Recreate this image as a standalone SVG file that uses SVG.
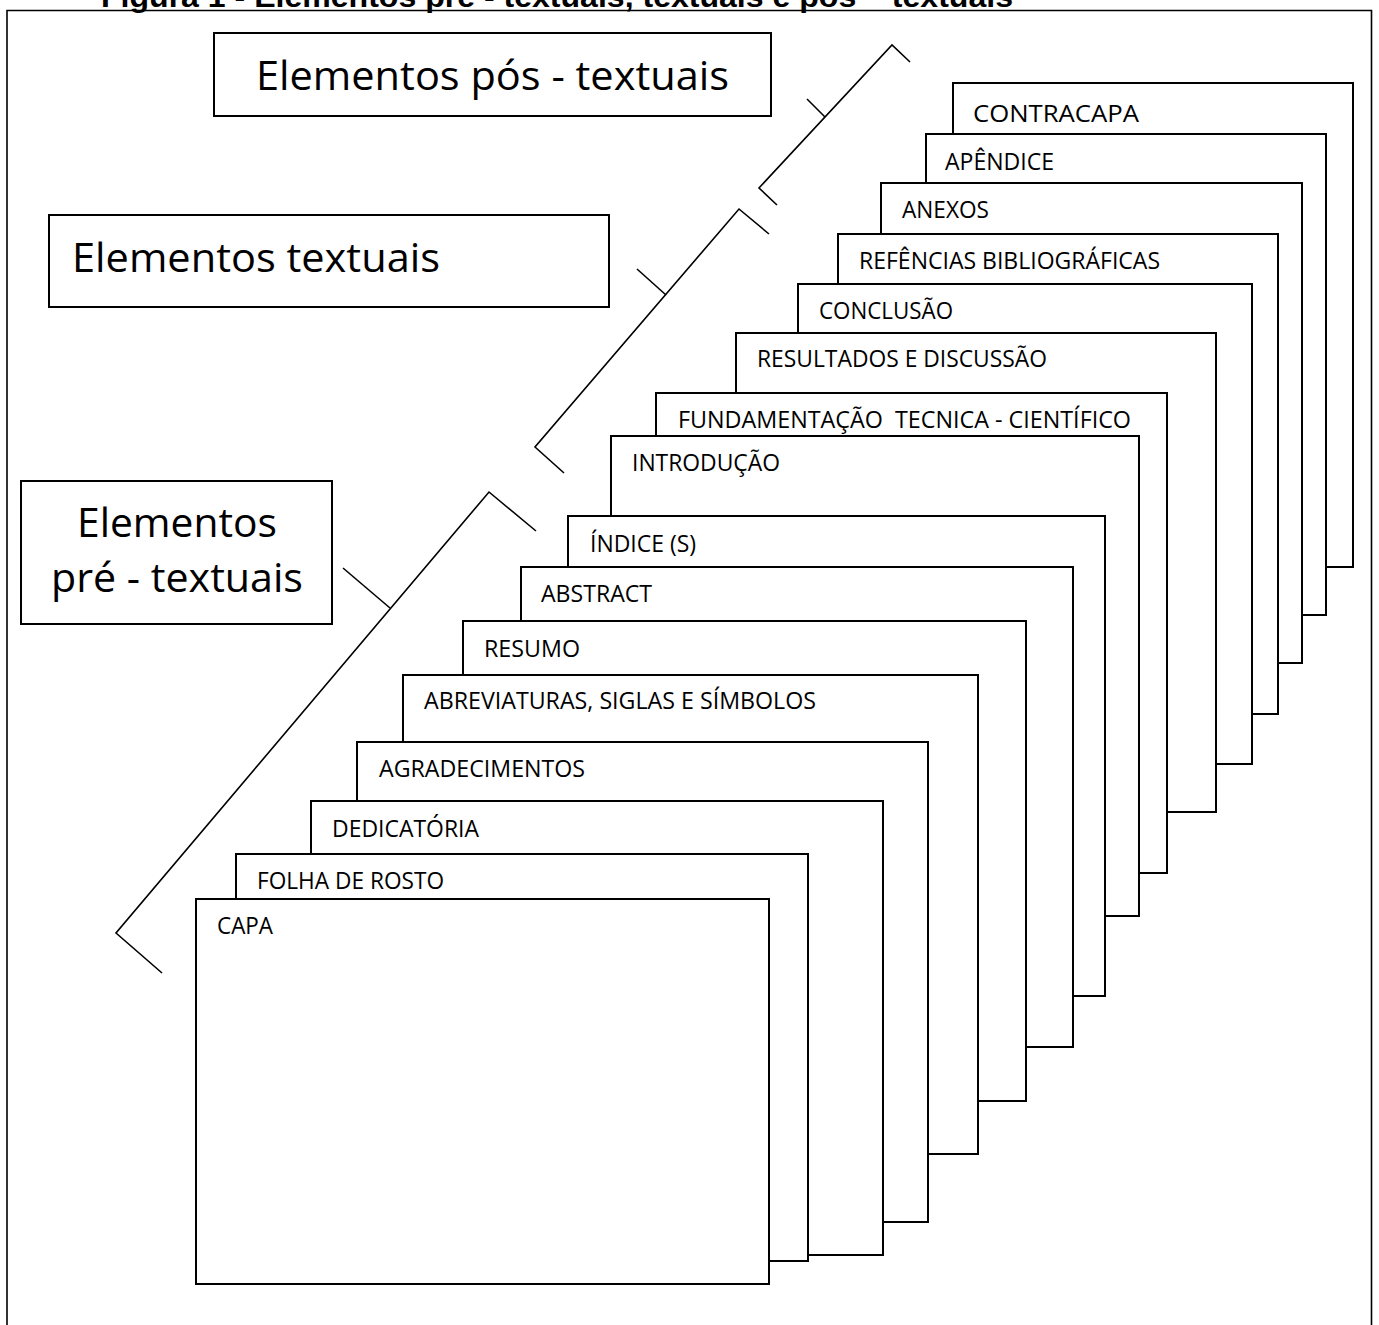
<svg xmlns="http://www.w3.org/2000/svg" width="1379" height="1325" viewBox="0 0 1379 1325">
<style>
.pg{fill:#fff;stroke:#000;stroke-width:2}
.lb{fill:#000;font-family:"Open Sans","Liberation Sans",sans-serif;font-size:24px}
.big{fill:#000;font-family:"Open Sans","Liberation Sans",sans-serif;font-size:41px}
.br{fill:none;stroke:#000;stroke-width:1.6}
.fr{fill:none;stroke:#000;stroke-width:1.6}
</style>
<rect x="0" y="0" width="1379" height="1325" fill="#fff"/>
<text x="101" y="7" font-family="'Liberation Sans',Arial,sans-serif" font-weight="bold" font-size="30" textLength="912" lengthAdjust="spacingAndGlyphs">Figura 1 - Elementos pré - textuais, textuais e pós – textuais</text>
<path class="fr" d="M7,1330 V10.5 H1371.5 V1330"/>

<g id="label-pos">
<rect class="pg" x="214" y="33" width="557" height="83"/>
<text class="big" x="256" y="90" textLength="473" lengthAdjust="spacingAndGlyphs">Elementos pós - textuais</text>
</g>
<g id="label-textuais">
<rect class="pg" x="49" y="215" width="560" height="92"/>
<text class="big" x="72" y="272" textLength="368" lengthAdjust="spacingAndGlyphs">Elementos textuais</text>
</g>
<g id="label-pre">
<rect class="pg" x="21" y="481" width="311" height="143"/>
<text class="big" x="77" y="537" textLength="200" lengthAdjust="spacingAndGlyphs">Elementos</text>
<text class="big" x="51" y="592" textLength="252" lengthAdjust="spacingAndGlyphs">pré - textuais</text>
</g>

<g id="connectors">
<polyline class="br" points="910,62 892,45 759,188 777,205"/>
<line class="br" x1="825" y1="117" x2="807" y2="99"/>
<polyline class="br" points="769,234 739,209 535,447 564,473"/>
<line class="br" x1="666" y1="295" x2="637" y2="269"/>
<polyline class="br" points="536,531 489,492 116,933 162,973"/>
<line class="br" x1="390" y1="608" x2="343" y2="568"/>
</g>

<g id="contracapa"><rect class="pg" x="953" y="83" width="400" height="484"/><text class="lb" x="973" y="122" font-size="26" textLength="166" lengthAdjust="spacingAndGlyphs">CONTRACAPA</text></g>
<g id="apendice"><rect class="pg" x="926" y="134" width="400" height="481"/><text class="lb" x="945" y="170" textLength="109" lengthAdjust="spacingAndGlyphs">APÊNDICE</text></g>
<g id="anexos"><rect class="pg" x="881" y="183" width="421" height="480"/><text class="lb" x="902" y="218" textLength="87" lengthAdjust="spacingAndGlyphs">ANEXOS</text></g>
<g id="referencias"><rect class="pg" x="838" y="234" width="440" height="480"/><text class="lb" x="859" y="269" textLength="301" lengthAdjust="spacingAndGlyphs">REFÊNCIAS BIBLIOGRÁFICAS</text></g>
<g id="conclusao"><rect class="pg" x="798" y="284" width="454" height="480"/><text class="lb" x="819" y="319" textLength="134" lengthAdjust="spacingAndGlyphs">CONCLUSÃO</text></g>
<g id="resultados"><rect class="pg" x="736" y="333" width="480" height="479"/><text class="lb" x="757" y="367" textLength="290" lengthAdjust="spacingAndGlyphs">RESULTADOS E DISCUSSÃO</text></g>
<g id="fundamentacao"><rect class="pg" x="656" y="393" width="511" height="480"/><text class="lb" x="678" y="428" textLength="453" lengthAdjust="spacingAndGlyphs" xml:space="preserve">FUNDAMENTAÇÃO  TECNICA - CIENTÍFICO</text></g>
<g id="introducao"><rect class="pg" x="611" y="436" width="528" height="480"/><text class="lb" x="632" y="471" textLength="148" lengthAdjust="spacingAndGlyphs">INTRODUÇÃO</text></g>
<g id="indice"><rect class="pg" x="568" y="516" width="537" height="480"/><text class="lb" x="590" y="552" textLength="106" lengthAdjust="spacingAndGlyphs">ÍNDICE (S)</text></g>
<g id="abstract"><rect class="pg" x="521" y="567" width="552" height="480"/><text class="lb" x="541" y="602" textLength="111" lengthAdjust="spacingAndGlyphs">ABSTRACT</text></g>
<g id="resumo"><rect class="pg" x="463" y="621" width="563" height="480"/><text class="lb" x="484" y="657" textLength="96" lengthAdjust="spacingAndGlyphs">RESUMO</text></g>
<g id="abreviaturas"><rect class="pg" x="403" y="675" width="575" height="479"/><text class="lb" x="424" y="709" textLength="392" lengthAdjust="spacingAndGlyphs">ABREVIATURAS, SIGLAS E SÍMBOLOS</text></g>
<g id="agradecimentos"><rect class="pg" x="357" y="742" width="571" height="480"/><text class="lb" x="379" y="777" textLength="206" lengthAdjust="spacingAndGlyphs">AGRADECIMENTOS</text></g>
<g id="dedicatoria"><rect class="pg" x="311" y="801" width="572" height="454"/><text class="lb" x="332" y="837" textLength="147" lengthAdjust="spacingAndGlyphs">DEDICATÓRIA</text></g>
<g id="folha-de-rosto"><rect class="pg" x="236" y="854" width="572" height="407"/><text class="lb" x="257" y="889" textLength="187" lengthAdjust="spacingAndGlyphs">FOLHA DE ROSTO</text></g>
<g id="capa"><rect class="pg" x="196" y="899" width="573" height="385"/><text class="lb" x="217" y="934" textLength="56" lengthAdjust="spacingAndGlyphs">CAPA</text></g>
</svg>
